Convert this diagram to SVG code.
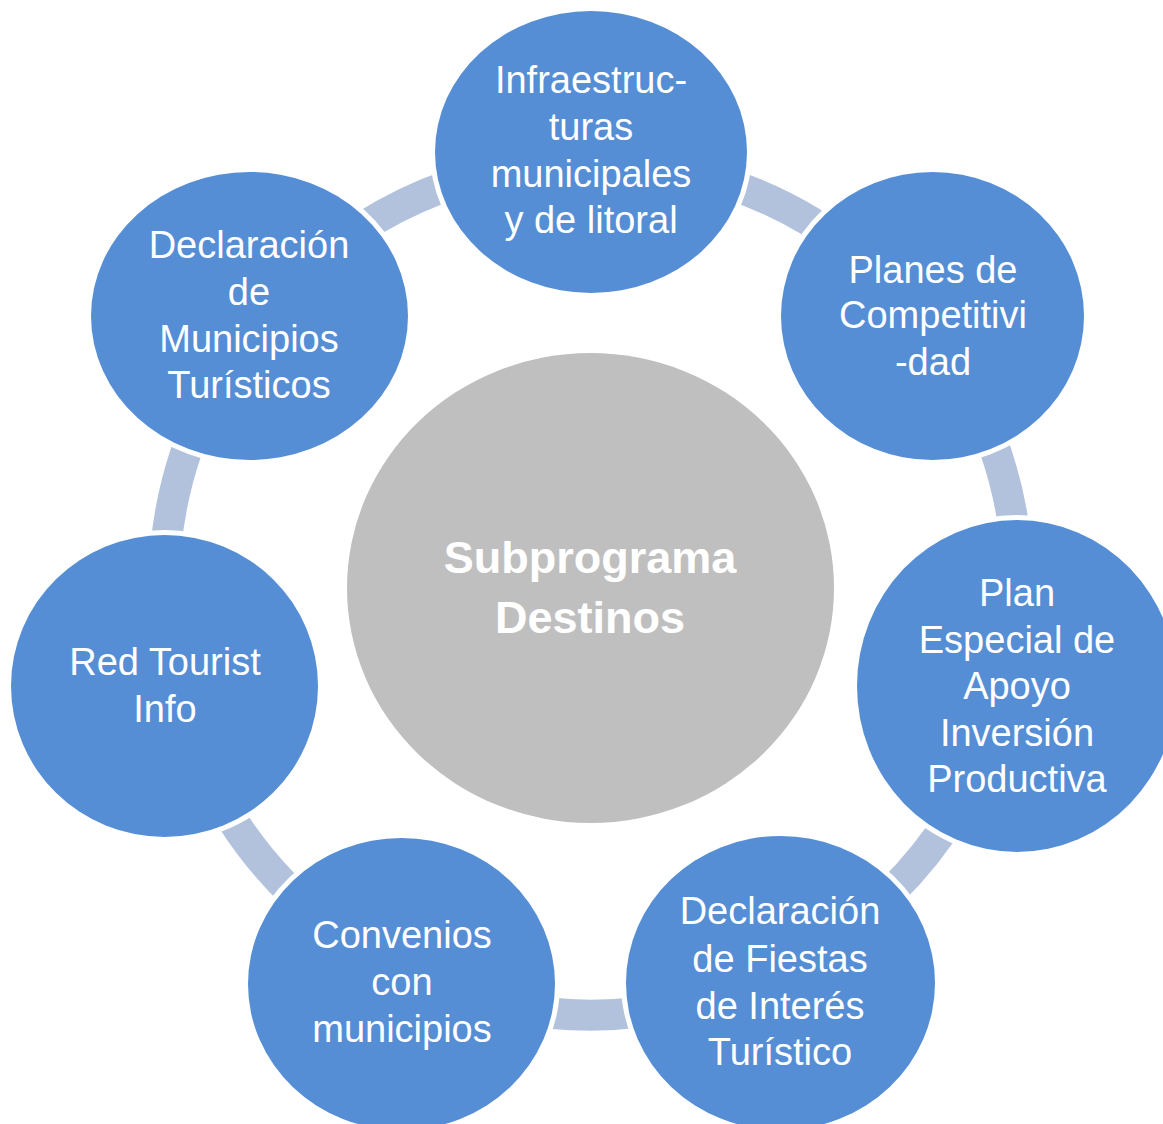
<svg xmlns="http://www.w3.org/2000/svg" width="1163" height="1124" viewBox="0 0 1163 1124">
<style>
.node{fill:#558ED5;stroke:#FFFFFF;stroke-width:10;paint-order:stroke}
.center{fill:#BFBFBF;stroke:#FFFFFF;stroke-width:6;paint-order:stroke}
.arc{fill:none;stroke:#B2C2DD;stroke-width:31}
.t{font-family:"Liberation Sans",Arial,sans-serif;font-size:38px;fill:#FFFFFF;text-anchor:middle}
.tc{font-family:"Liberation Sans",Arial,sans-serif;font-size:45px;font-weight:bold;fill:#FFFFFF;text-anchor:middle}
</style>
<rect width="1163" height="1124" fill="#FFFFFF"/>
<g id="connectors">
<path class="arc" d="M679.8,170.3 A427,427 0 0 1 862.4,258.3"/>
<path class="arc" d="M972.9,397 A427,427 0 0 1 1018,594.4"/>
<path class="arc" d="M978.4,767.5 A427,427 0 0 1 852.2,925.8"/>
<path class="arc" d="M692.2,1002.8 A427,427 0 0 1 489.8,1002.8"/>
<path class="arc" d="M329.8,925.8 A427,427 0 0 1 203.6,767.5"/>
<path class="arc" d="M164,594.4 A427,427 0 0 1 209.1,397"/>
<path class="arc" d="M319.6,258.3 A427,427 0 0 1 502.2,170.3"/>
</g>
<g id="center">
<ellipse class="center" cx="590.5" cy="588" rx="243.5" ry="235"/>
<text class="tc" x="590" y="573">Subprograma</text>
<text class="tc" x="590" y="633">Destinos</text>
</g>
<g id="n1">
<ellipse class="node" cx="591" cy="152" rx="156" ry="141"/>
<text class="t" x="591" y="93">Infraestruc-</text>
<text class="t" x="591" y="140">turas</text>
<text class="t" x="591" y="187">municipales</text>
<text class="t" x="591" y="233">y de litoral</text>
</g>
<g id="n2">
<ellipse class="node" cx="932.5" cy="316" rx="151.5" ry="144"/>
<text class="t" x="933" y="283">Planes de</text>
<text class="t" x="933" y="328">Competitivi</text>
<text class="t" x="933" y="375">-dad</text>
</g>
<g id="n3">
<ellipse class="node" cx="1017" cy="686" rx="160" ry="166"/>
<text class="t" x="1017" y="606">Plan</text>
<text class="t" x="1017" y="653">Especial de</text>
<text class="t" x="1017" y="699">Apoyo</text>
<text class="t" x="1017" y="746">Inversión</text>
<text class="t" x="1017" y="792">Productiva</text>
</g>
<g id="n4">
<ellipse class="node" cx="780.5" cy="983" rx="154.5" ry="147"/>
<text class="t" x="780" y="924">Declaración</text>
<text class="t" x="780" y="972">de Fiestas</text>
<text class="t" x="780" y="1019">de Interés</text>
<text class="t" x="780" y="1065">Turístico</text>
</g>
<g id="n5">
<ellipse class="node" cx="401.5" cy="984" rx="153.5" ry="146"/>
<text class="t" x="402" y="948">Convenios</text>
<text class="t" x="402" y="995">con</text>
<text class="t" x="402" y="1042">municipios</text>
</g>
<g id="n6">
<ellipse class="node" cx="164.5" cy="686" rx="153.5" ry="151"/>
<text class="t" x="165" y="675">Red Tourist</text>
<text class="t" x="165" y="722">Info</text>
</g>
<g id="n7">
<ellipse class="node" cx="249.5" cy="316" rx="158.5" ry="144"/>
<text class="t" x="249" y="258">Declaración</text>
<text class="t" x="249" y="305">de</text>
<text class="t" x="249" y="352">Municipios</text>
<text class="t" x="249" y="398">Turísticos</text>
</g>
</svg>
